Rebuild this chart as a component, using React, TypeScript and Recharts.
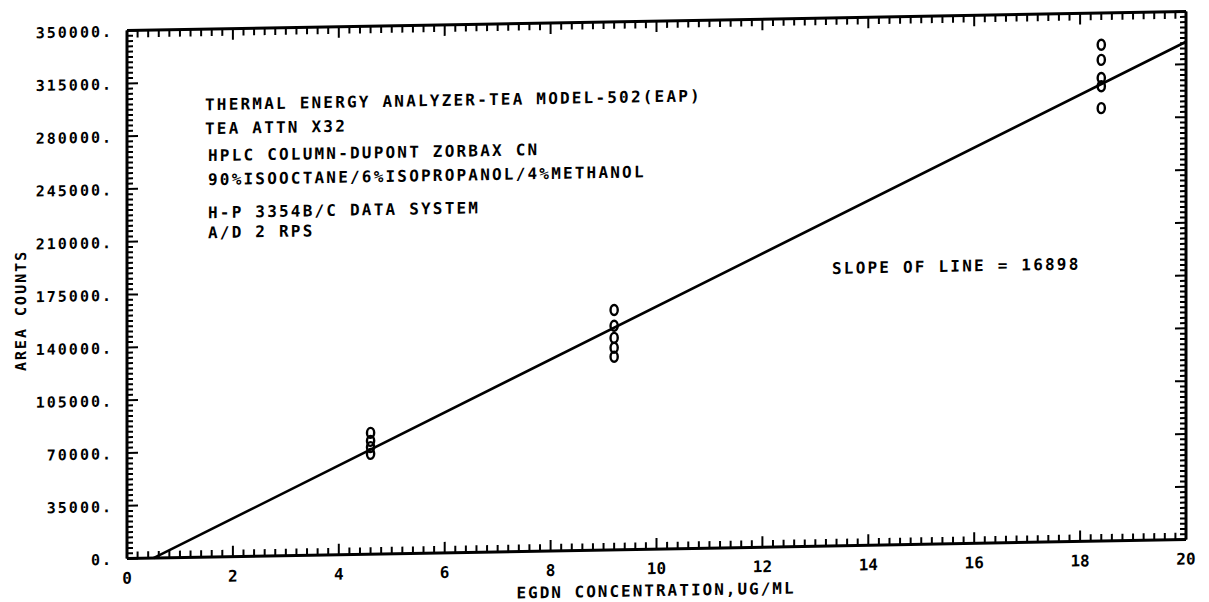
import { ComposedChart, Line, Scatter, XAxis, YAxis } from "recharts";

// fitted line
const lineX = [0.5, 20];
const lineY = [0, 330000];

// replicate injections (conc, area counts)
const lowX = [4.6, 4.6, 4.6, 4.6];
const lowY = [80400, 75100, 71000, 66500];
const midX = [9.2, 9.2, 9.2, 9.2, 9.2];
const midY = [159000, 148500, 140500, 134000, 128000];
const highX = [18.4, 18.4, 18.4, 18.4, 18.4];
const highY = [329000, 319000, 307000, 301500, 287000];

const xTicks = [0, 2, 4, 6, 8, 10, 12, 14, 16, 18, 20];
const yTicks = [0, 35000, 70000, 105000, 140000, 175000, 210000, 245000, 280000, 315000, 350000];

const notes = [
  "THERMAL ENERGY ANALYZER-TEA MODEL-502(EAP)",
  "TEA ATTN X32",
  "HPLC COLUMN-DUPONT ZORBAX CN",
  "90%ISOOCTANE/6%ISOPROPANOL/4%METHANOL",
  "H-P 3354B/C DATA SYSTEM",
  "A/D 2 RPS",
];
const slopeText = "SLOPE OF LINE = 16898";

const xMinor = Array.from({ length: 101 }, (_, i) => i / 5);
const yMinor = Array.from({ length: 101 }, (_, i) => i * 3500);

const lineData = lineX.map((x, i) => ({ x, y: lineY[i] }));
const pts = [
  ...lowX.map((x, i) => ({ x, y: lowY[i] })),
  ...midX.map((x, i) => ({ x, y: midY[i] })),
  ...highX.map((x, i) => ({ x, y: highY[i] })),
];

const FONT = '"DejaVu Sans Mono", monospace';
const W = 1209;
const H = 602;
// axes take 1px each, so plot box = 127..1186 x 22..550
const M = { top: 21, right: 22, bottom: 51, left: 126 };

const BottomTick = (p: any) => {
  const v = p.payload.value;
  const major = xTicks.includes(v);
  return (
    <g>
      <line x1={p.x} y1={p.y} x2={p.x} y2={p.y - (major ? 11 : 7)} stroke="#000" strokeWidth={2} />
      {major && (
        <text x={p.x} y={p.y + 25} textAnchor="middle" fontFamily={FONT} fontWeight="bold" fontSize={16} fill="#000">
          {v}
        </text>
      )}
    </g>
  );
};

const TopTick = (p: any) => {
  const major = xTicks.includes(p.payload.value);
  return <line x1={p.x} y1={p.y} x2={p.x} y2={p.y + (major ? 11 : 7)} stroke="#000" strokeWidth={2} />;
};

const LeftTick = (p: any) => {
  const v = p.payload.value;
  const major = yTicks.includes(v);
  return (
    <g>
      <line x1={p.x} y1={p.y} x2={p.x + (major ? 11 : 6)} y2={p.y} stroke="#000" strokeWidth={2} />
      {major && (
        <text x={p.x - 14} y={p.y + 6} textAnchor="end" fontFamily={FONT} fontWeight="bold" fontSize={15} letterSpacing={2} fill="#000">
          {v + "."}
        </text>
      )}
    </g>
  );
};

const RightTick = (p: any) => {
  const major = yTicks.includes(p.payload.value);
  return <line x1={p.x} y1={p.y} x2={p.x - (major ? 11 : 6)} y2={p.y} stroke="#000" strokeWidth={2} />;
};

const ZeroMark = (p: any) => (
  <ellipse cx={p.cx} cy={p.cy} rx={3.6} ry={5} fill="none" stroke="#000" strokeWidth={2.4} />
);

const noteY = [103, 127, 154, 178, 211, 231];

export default function App() {
  return (
    <div style={{ position: "absolute", left: 0, top: 0, width: W, height: H, background: "#fff", transform: "skewY(-1.03deg)", transformOrigin: "50% 50%" }}>
      <ComposedChart width={W} height={H} margin={M}>
        <XAxis
          dataKey="x"
          type="number"
          domain={[0, 20]}
          ticks={xMinor}
          interval={0}
          height={1}
          tickSize={0}
          tickMargin={0}
          tickLine={false}
          tick={BottomTick}
          axisLine={{ stroke: "#000", strokeWidth: 3 }}
        />
        <XAxis
          xAxisId="top"
          orientation="top"
          dataKey="x"
          type="number"
          domain={[0, 20]}
          ticks={xMinor}
          interval={0}
          height={1}
          tickSize={0}
          tickMargin={0}
          tickLine={false}
          tick={TopTick}
          axisLine={{ stroke: "#000", strokeWidth: 3 }}
        />
        <YAxis
          type="number"
          domain={[0, 350000]}
          ticks={yMinor}
          interval={0}
          width={1}
          tickSize={0}
          tickMargin={0}
          tickLine={false}
          tick={LeftTick}
          axisLine={{ stroke: "#000", strokeWidth: 3 }}
        />
        <YAxis
          yAxisId="right"
          orientation="right"
          type="number"
          domain={[0, 350000]}
          ticks={yMinor}
          interval={0}
          width={1}
          tickSize={0}
          tickMargin={0}
          tickLine={false}
          tick={RightTick}
          axisLine={{ stroke: "#000", strokeWidth: 3 }}
        />
        <Line data={lineData} dataKey="y" type="linear" stroke="#000" strokeWidth={2.6} dot={false} isAnimationActive={false} />
        {/* same domains on both axis pairs, so binding the points to top/right keeps those ticks drawn */}
        <Scatter data={pts} dataKey="y" xAxisId="top" yAxisId="right" shape={ZeroMark} isAnimationActive={false} />
      </ComposedChart>
      <svg width={W} height={H} style={{ position: "absolute", left: 0, top: 0, pointerEvents: "none" }}>
        <g fontFamily={FONT} fontWeight="bold" fill="#000">
          {notes.map((t, i) => (
            <text key={t} x={i < 2 ? 205 : 208} y={noteY[i]} fontSize={16} letterSpacing={2.2}>
              {t}
            </text>
          ))}
          <text x={832} y={278} fontSize={16} letterSpacing={2.2}>
            {slopeText}
          </text>
          <text x={656} y={597} textAnchor="middle" fontSize={16} letterSpacing={2}>
            EGDN CONCENTRATION,UG/ML
          </text>
          <text x={0} y={0} transform="translate(26,300) rotate(-90)" textAnchor="middle" fontSize={15} letterSpacing={2}>
            AREA COUNTS
          </text>
        </g>
      </svg>
    </div>
  );
}
